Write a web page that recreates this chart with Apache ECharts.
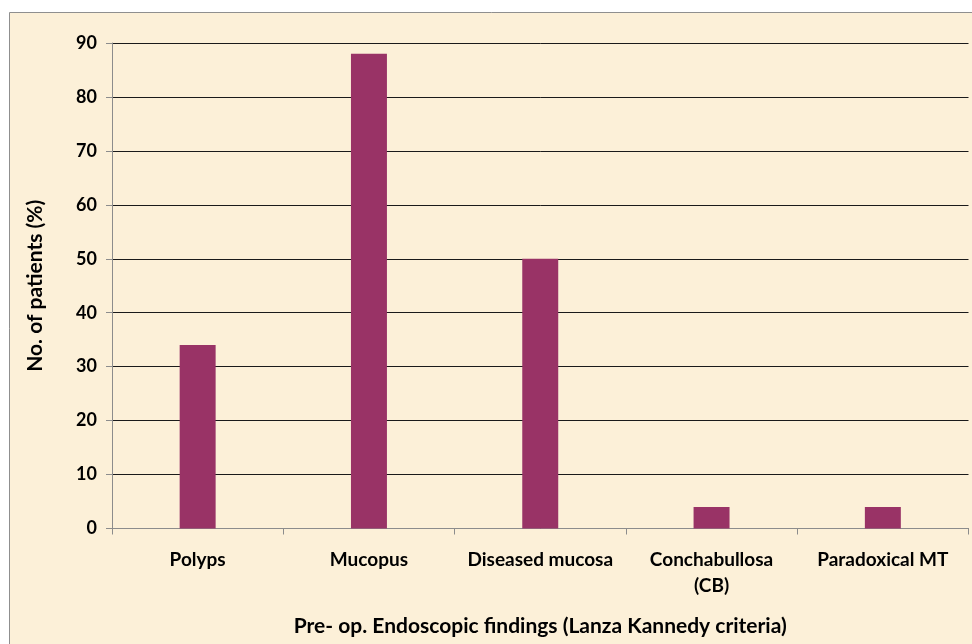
<!DOCTYPE html>
<html>
<head>
<meta charset="utf-8">
<script src="https://cdn.jsdelivr.net/npm/echarts@6/dist/echarts.min.js"></script>
<style>
  html, body { margin: 0; padding: 0; background: #ffffff; }
  #chart { width: 972px; height: 644px; }
</style>
</head>
<body>
<div id="chart"></div>
<script>
// Pre-operative endoscopic findings, percentage of patients
const categories = ['Polyps', 'Mucopus', 'Diseased mucosa', 'Conchabullosa\n(CB)', 'Paradoxical MT'];
const percentValues = [34, 88, 50, 4, 4];
const yTicks = { min: 0, max: 90, step: 10 };

const FONT = 'Lato, "Open Sans", sans-serif';

const chart = echarts.init(document.getElementById('chart'), null, { renderer: 'canvas' });

chart.setOption({
  animation: false,
  backgroundColor: '#ffffff',
  graphic: [
    {
      // parchment panel with its grey frame
      type: 'rect',
      z: -10,
      silent: true,
      shape: { x: 9.5, y: 12.5, width: 1000, height: 700 },
      style: { fill: '#fcf0d8', stroke: '#8f8f8f', lineWidth: 1 }
    }
  ],
  grid: { left: 112, right: 3.5, top: 43, bottom: 115.5, containLabel: false },
  xAxis: {
    type: 'category',
    data: categories,
    boundaryGap: true,
    axisLine: { show: true, lineStyle: { color: '#8c8c8c', width: 1 } },
    axisTick: { show: true, length: 6, inside: false, lineStyle: { color: '#8c8c8c' } },
    axisLabel: {
      color: '#000000',
      fontFamily: FONT,
      fontWeight: 'bold',
      fontSize: 19,
      lineHeight: 26,
      margin: 18,
      interval: 0
    },
    name: 'Pre- op. Endoscopic findings (Lanza Kannedy criteria)',
    nameLocation: 'middle',
    nameGap: 98,
    nameTextStyle: {
      color: '#000000',
      fontFamily: FONT,
      fontWeight: 'bold',
      fontSize: 21,
      verticalAlign: 'middle'
    }
  },
  yAxis: {
    type: 'value',
    min: yTicks.min,
    max: yTicks.max,
    interval: yTicks.step,
    axisLine: { show: true, lineStyle: { color: '#8c8c8c', width: 1 } },
    axisTick: { show: true, length: 6, inside: false, lineStyle: { color: '#8c8c8c' } },
    axisLabel: {
      color: '#000000',
      fontFamily: FONT,
      fontWeight: 'bold',
      fontSize: 18,
      margin: 15
    },
    splitLine: { show: true, lineStyle: { color: '#1a1a1a', width: 1 } },
    name: 'No. of patients (%)',
    nameLocation: 'middle',
    nameRotate: 90,
    nameGap: 77,
    nameTextStyle: {
      color: '#000000',
      fontFamily: FONT,
      fontWeight: 'bold',
      fontSize: 21,
      verticalAlign: 'middle'
    }
  },
  series: [
    {
      type: 'bar',
      data: percentValues,
      barWidth: '21%',
      itemStyle: { color: '#993366' }
    }
  ]
});
</script>
</body>
</html>
